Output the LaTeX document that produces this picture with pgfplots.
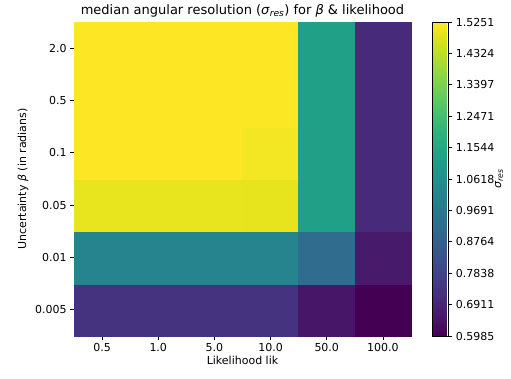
\documentclass[border=0pt]{standalone}
\usepackage{pgfplots}
\pgfplotsset{compat=1.18}
\usepackage{fontspec}
\setmainfont{DejaVu Sans}
\pgfplotstableread{
x y c
0 0 0.735
1 0 0.735
2 0 0.735
3 0 0.735
4 0 0.652
5 0 0.5985
0 1 1.015
1 1 1.015
2 1 1.015
3 1 1.015
4 1 0.923
5 1 0.662
0 2 1.495
1 2 1.495
2 2 1.495
3 2 1.493
4 2 1.127
5 2 0.710
0 3 1.5251
1 3 1.5251
2 3 1.5251
3 3 1.510
4 3 1.127
5 3 0.710
0 4 1.5251
1 4 1.5251
2 4 1.5251
3 4 1.5240
4 4 1.127
5 4 0.710
0 5 1.5251
1 5 1.5251
2 5 1.5251
3 5 1.5251
4 5 1.127
5 5 0.710
}\datatable
\begin{document}
\begin{tikzpicture}
\path[use as bounding box] (-74pt,-42pt) rectangle (437pt,336pt);
\begin{axis}[
 at={(0,0)}, anchor=south west,
 width=337pt, height=314pt, scale only axis,
 xmin=-0.5, xmax=5.5, ymin=-0.5, ymax=5.5,
 xtick={0,...,5}, xticklabels={0.5,1.0,5.0,10.0,50.0,100.0},
 ytick={0,...,5}, yticklabels={0.005,0.01,0.05,0.1,0.5,2.0},
 tick align=outside, xtick pos=bottom, ytick pos=left,
 major tick length=3.8pt,
 tick style={black, line width=0.7pt},
 axis line style={line width=0.7pt, black!80},
 axis on top,
 ticklabel style={font=\fontsize{11}{13}\selectfont},
 /pgf/number format/assume math mode=true,
 xlabel={Likelihood lik},
 ylabel={Uncertainty \textit{β} (in radians)},
 label style={font=\fontsize{11}{13}\selectfont},
 xlabel style={yshift=2pt},
 title={median angular resolution (\textit{σ}\textsubscript{\textit{res}}) for \textit{β} \& likelihood},
 title style={font=\fontsize{13}{15}\selectfont, yshift=-5pt},
 colormap name=viridis,
 point meta min=0.5985, point meta max=1.5251,
 colorbar,
 colorbar style={
   width=16pt,
   at={(parent axis.north east)}, anchor=north west, xshift=13pt,
   ytick={0.5985,0.6911,0.7838,0.8764,0.9691,1.0618,1.1544,1.2471,1.3397,1.4324,1.5251},
   yticklabels={0.5985,0.6911,0.7838,0.8764,0.9691,1.0618,1.1544,1.2471,1.3397,1.4324,1.5251},
   yticklabel style={font=\fontsize{11}{13}\selectfont},
   tick align=outside, major tick length=3.8pt,
   ytick pos=right,
   ylabel={\textit{σ}\textsubscript{\textit{res}}},
   ylabel style={font=\fontsize{11}{13}\selectfont},
   ylabel shift=-6pt,
 },
]
\addplot[scatter, only marks, scatter src=explicit, mark=square*,
  mark size=28.25pt,
  scatter/use mapped color={draw=mapped color, fill=mapped color},
  mark options={yscale=0.93175, line width=0.3pt}]
  table[x=x, y=y, meta=c] {\datatable};
\end{axis}
\end{tikzpicture}
\end{document}
